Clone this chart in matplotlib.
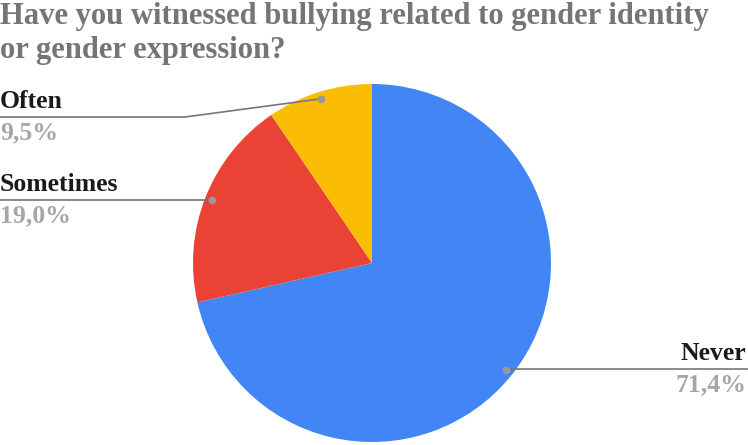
import matplotlib
matplotlib.use("Agg")
import matplotlib.pyplot as plt
import numpy as np

# Survey answers and their shares (%)
categories = ["Never", "Sometimes", "Often"]
shares = [71.4, 19.0, 9.5]
share_labels = ["71,4%", "19,0%", "9,5%"]
colors = ["#4285F4", "#EA4335", "#FBBC04"]
title_lines = ["Have you witnessed bullying related to gender identity",
               "or gender expression?"]

W, H = 748, 445
fig = plt.figure(figsize=(W / 100, H / 100), dpi=100)
fig.patch.set_facecolor("white")

# Pie axes placed in pixel units: centre (372, 263), radius 179
cx, cy, R = 372, 263, 179
ax = fig.add_axes([(cx - R) / W, (H - cy - R) / H, 2 * R / W, 2 * R / H])

wedges, _ = ax.pie(shares, colors=colors, startangle=90, counterclock=False,
                   radius=1, wedgeprops=dict(linewidth=0))
ax.set_xlim(-1, 1)
ax.set_ylim(-1, 1)
ax.set_aspect("equal")
ax.axis("off")

serif = "Liberation Serif"


def px(x, y):
    """pixel (top-left origin) -> figure fraction"""
    return x / W, 1 - y / H


for line, base in zip(title_lines, [24, 58]):
    fig.text(*px(0, base), line, ha="left", va="baseline", fontsize=22.1,
             fontweight="bold", family=serif, color="#757575")

# label anchors: (text x, line y, line end x, side)
layout = {
    "Never": (746, 369, 748, "right"),
    "Sometimes": (0, 200, 0, "left"),
    "Often": (0, 117, 0, "left"),
}
elbow = {"Often": 185}

for w, cat, lab in zip(wedges, categories, share_labels):
    mid = np.deg2rad((w.theta1 + w.theta2) / 2)
    dx, dy = cx + 0.96 * R * np.cos(mid), cy - 0.96 * R * np.sin(mid)
    tx, ly, lx, side = layout[cat]
    ex = elbow.get(cat, dx)
    xs = [dx, ex, lx]
    ys = [dy, ly, ly]
    fx, fy = zip(*[px(a, b) for a, b in zip(xs, ys)])
    fig.add_artist(plt.Line2D(fx, fy, color="#777777", lw=1.2,
                              transform=fig.transFigure))
    fig.add_artist(plt.Line2D([fx[0]], [fy[0]], marker="o", ms=4.5,
                              color="#999999", transform=fig.transFigure))
    fig.text(*px(tx, ly - 4), cat, ha=side, va="bottom", fontsize=18.5,
             fontweight="bold", family=serif, color="#1a1a1a")
    fig.text(*px(tx, ly + 4), lab, ha=side, va="top", fontsize=18.5,
             fontweight="bold", family=serif, color="#a6a6a6")

fig.savefig("out.png", dpi=100, facecolor="white")
